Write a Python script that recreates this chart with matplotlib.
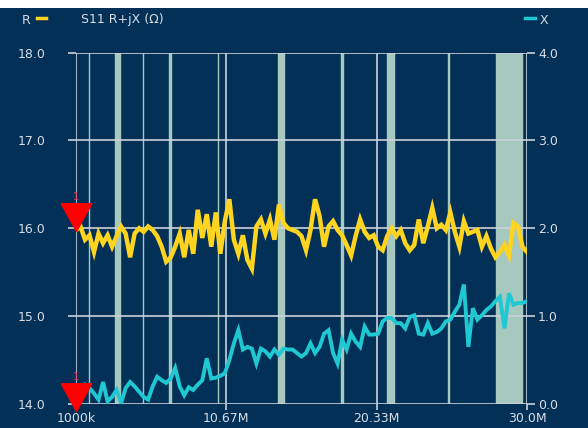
import numpy as np
import matplotlib
matplotlib.use("Agg")
import matplotlib.pyplot as plt

# 频率范围 1MHz - 30MHz, 101 点
f_start, f_stop = 1.0, 30.0
n_points = 101

r_vals = [
    15.98, 16.02, 15.87, 15.92, 15.73, 15.94, 15.83, 15.92, 15.79, 15.91,
    16.02, 15.94, 15.67, 15.94, 16.00, 15.96, 16.02, 15.98, 15.91, 15.79,
    15.62, 15.67, 15.79, 15.94, 15.67, 15.98, 15.71, 16.21, 15.89, 16.16,
    15.79, 16.18, 15.71, 16.08, 16.33, 15.87, 15.71, 15.92, 15.64, 15.54,
    16.02, 16.10, 15.94, 16.10, 15.87, 16.27, 16.06, 16.00, 15.98, 15.96,
    15.91, 15.75, 15.98, 16.33, 16.14, 15.79, 16.02, 16.08, 15.98, 15.92,
    15.81, 15.69, 15.91, 16.10, 15.96, 15.89, 15.92, 15.79, 15.75, 15.91,
    16.00, 15.91, 15.98, 15.83, 15.75, 15.81, 16.10, 15.83, 16.02, 16.23,
    16.00, 16.04, 15.98, 16.18, 15.96, 15.79, 16.08, 15.94, 15.96, 15.98,
    15.79, 15.91, 15.77, 15.67, 15.73, 15.81, 15.69, 16.06, 16.02, 15.79,
    15.73,
]

x_vals = [
    0.14, 0.16, 0.22, 0.18, 0.12, 0.05, 0.25, 0.03, 0.08, 0.16,
    0.01, 0.18, 0.25, 0.20, 0.14, 0.08, 0.05, 0.20, 0.31, 0.27,
    0.24, 0.29, 0.41, 0.20, 0.10, 0.19, 0.16, 0.22, 0.27, 0.52,
    0.29, 0.30, 0.32, 0.35, 0.50, 0.69, 0.84, 0.62, 0.65, 0.63,
    0.46, 0.63, 0.60, 0.54, 0.62, 0.56, 0.63, 0.62, 0.62, 0.58,
    0.54, 0.58, 0.69, 0.58, 0.65, 0.80, 0.84, 0.58, 0.46, 0.73,
    0.62, 0.80, 0.71, 0.65, 0.88, 0.79, 0.79, 0.80, 0.94, 0.98,
    0.98, 0.92, 0.92, 0.86, 0.99, 1.01, 0.80, 0.79, 0.92, 0.80,
    0.82, 0.86, 0.94, 0.96, 1.05, 1.13, 1.36, 0.65, 1.09, 0.96,
    1.01, 1.07, 1.11, 1.17, 1.22, 0.86, 1.26, 1.13, 1.15, 1.15,
    1.17,
]

# 业余无线电频段 (MHz)
band_lo = [1.81, 3.50, 5.30, 7.00, 10.10, 14.00, 18.068, 21.00, 24.89, 28.00]
band_hi = [1.825, 3.805, 5.32, 7.10, 10.15, 14.35, 18.168, 21.45, 24.99, 29.70]

x_ticks = [1.0, 10.67, 20.33, 30.0]
x_ticklabels = ['1000k', '10.67M', '20.33M', '30.0M']
r_ticks = [14.0, 15.0, 16.0, 17.0, 18.0]
x_axis_ticks = [0.0, 1.0, 2.0, 3.0, 4.0]

marker_freq = 1.0
marker_r = 15.97
marker_x = -0.08

bg = '#023057'
grid_c = '#cdd2da'
band_c = '#a6c8bf'
txt_c = '#d8dde6'
yellow = '#ffd41e'
cyan = '#1fc8d2'

plt.rcParams['font.family'] = ['DejaVu Sans']

fig = plt.figure(figsize=(5.88, 4.28), dpi=100, facecolor=bg)
ax = fig.add_axes([76 / 588, 1 - 404 / 428, 451 / 588, (404 - 52.5) / 428])
ax.set_facecolor(bg)
ax2 = ax.twinx()

freqs = np.linspace(f_start, f_stop, n_points)

for lo, hi in zip(band_lo, band_hi):
    ax.axvspan(lo, hi, facecolor=band_c, edgecolor=band_c, lw=1.0, zorder=1)

ax.set_xlim(f_start, f_stop)
ax.set_ylim(14, 18)
ax2.set_ylim(0, 4)

# 网格
ax.set_xticks(x_ticks)
ax.set_xticklabels(x_ticklabels)
ax.set_yticks(r_ticks)
ax.set_yticklabels([f'{v:.1f}' for v in r_ticks])
ax2.set_yticks(x_axis_ticks)
ax2.set_yticklabels([f'{v:.1f}' for v in x_axis_ticks])
ax.grid(True, color=grid_c, lw=1.2, zorder=2.5)
ax.set_axisbelow(False)

for a in (ax, ax2):
    for s in a.spines.values():
        s.set_visible(False)
ax.tick_params(axis='x', direction='out', length=4.5, width=1.2, color=grid_c,
               labelcolor=txt_c, labelsize=9, pad=1.5)
ax.tick_params(axis='y', direction='out', length=6, width=1.2, color=grid_c,
               labelcolor=txt_c, labelsize=9, pad=16)
ax2.tick_params(axis='y', direction='out', length=6, width=1.2, color=grid_c,
                labelcolor=txt_c, labelsize=9, pad=2)

# 曲线
ax.plot(freqs, r_vals, color=yellow, lw=3.2, zorder=3, solid_joinstyle='miter')
ax2.plot(freqs, x_vals, color=cyan, lw=2.8, zorder=3, solid_joinstyle='miter')

# 标记 1
tri = [(-0.55, 1.0), (0.55, 1.0), (0.0, 0.0), (-0.55, 1.0)]
ax.plot([marker_freq], [marker_r], marker=tri, markersize=40, color='#ff0000',
        lw=0, zorder=5, clip_on=False)
ax2.plot([marker_freq], [marker_x], marker=tri, markersize=40, color='#ff0000',
         lw=0, zorder=5, clip_on=False)
ax.annotate('1', (marker_freq, marker_r), xytext=(0, 21), textcoords='offset points',
            ha='center', va='bottom', color='#e8305a', fontsize=7, zorder=6,
            annotation_clip=False)
ax2.annotate('1', (marker_freq, marker_x), xytext=(0, 21), textcoords='offset points',
             ha='center', va='bottom', color='#e8305a', fontsize=7, zorder=6,
             annotation_clip=False)

# 图例与标题
fig.text(22 / 588, 1 - 20 / 428, 'R', color=txt_c, fontsize=9, va='center', ha='left')
fig.add_artist(plt.Line2D([37 / 588, 46 / 588], [1 - 18 / 428, 1 - 18 / 428],
                          color=yellow, lw=2.5))
fig.text(81 / 588, 1 - 20 / 428, 'S11 R+jX (Ω)', color=txt_c, fontsize=9,
         va='center', ha='left')
fig.add_artist(plt.Line2D([525 / 588, 535 / 588], [1 - 18 / 428, 1 - 18 / 428],
                          color=cyan, lw=2.5))
fig.text(540 / 588, 1 - 20 / 428, 'X', color=txt_c, fontsize=9, va='center', ha='left')

# 顶部白边
fig.add_artist(plt.Rectangle((0, 1 - 8 / 428), 1, 8 / 428, transform=fig.transFigure,
                             facecolor='white', edgecolor='none'))

fig.savefig('out.png', dpi=100, facecolor=bg)
